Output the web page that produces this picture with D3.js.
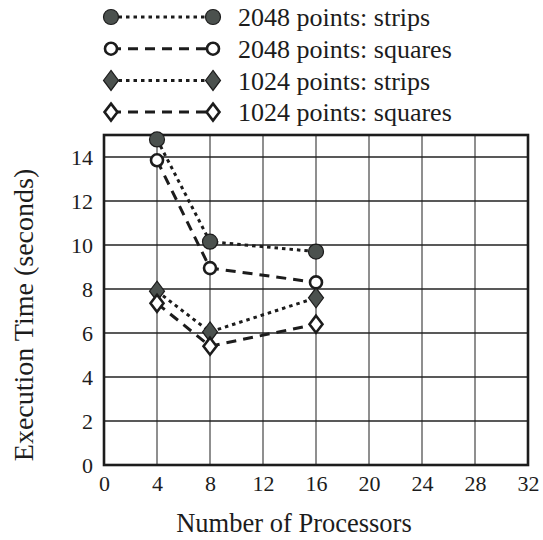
<!DOCTYPE html>
<html>
<head>
<meta charset="utf-8">
<script src="https://cdn.jsdelivr.net/npm/d3@7"></script>
<style>
  body { margin: 0; background: #fff; }
  svg { display: block; }
  svg text { font-family: "Liberation Serif", "Times New Roman", serif; }
</style>
</head>
<body>
<svg id="chart"></svg>
<script>
var W = 543, H = 540,
  M_LEFT = 104, M_RIGHT = 15, M_TOP = 135, M_BOTTOM = 75,
  SERIF = "Liberation Serif, Times New Roman, serif";

// data
var processors = [4, 8, 16];
var strips2048 = [14.8, 10.15, 9.7];
var squares2048 = [13.85, 8.95, 8.3];
var strips1024 = [7.9, 6.05, 7.6];
var squares1024 = [7.35, 5.4, 6.4];
var seriesNames = ["2048 points: strips", "2048 points: squares", "1024 points: strips", "1024 points: squares"];
var xTicks = [0, 4, 8, 12, 16, 20, 24, 28, 32];
var yTicks = [0, 2, 4, 6, 8, 10, 12, 14];

var INK = "#1c1c1c", FILL = "#4b514e";

var series = [
  { name: seriesNames[0], values: strips2048, shape: "circle", filled: true, dash: "3.5,4" },
  { name: seriesNames[1], values: squares2048, shape: "circle", filled: false, dash: "10,7" },
  { name: seriesNames[2], values: strips1024, shape: "diamond", filled: true, dash: "3.5,4" },
  { name: seriesNames[3], values: squares1024, shape: "diamond", filled: false, dash: "10,7" }
];

var svg = d3.select("#chart").attr("width", W).attr("height", H)
  .attr("font-family", SERIF);

var x = d3.scaleLinear().domain([0, 32]).range([M_LEFT, W - M_RIGHT]);
var y = d3.scaleLinear().domain([0, 15]).range([H - M_BOTTOM, M_TOP]);

// grid
svg.append("g").selectAll("line.vg")
  .data(xTicks.slice(1, -1)).enter().append("line")
  .attr("x1", function(d) { return x(d); }).attr("x2", function(d) { return x(d); })
  .attr("y1", y(0)).attr("y2", y(15))
  .attr("stroke", "#333").attr("stroke-width", 1.1);

svg.append("g").selectAll("line.hg")
  .data(yTicks.slice(1)).enter().append("line")
  .attr("x1", x(0)).attr("x2", x(32))
  .attr("y1", function(d) { return y(d); }).attr("y2", function(d) { return y(d); })
  .attr("stroke", "#222").attr("stroke-width", 1.4);

// frame
svg.append("rect")
  .attr("x", x(0)).attr("y", y(15))
  .attr("width", x(32) - x(0)).attr("height", y(0) - y(15))
  .attr("fill", "none").attr("stroke", INK).attr("stroke-width", 2.6);

// axes (labels only)
var xAxis = svg.append("g")
  .attr("transform", "translate(0," + (y(0) + 10) + ")")
  .call(d3.axisBottom(x).tickValues(xTicks).tickSize(0).tickPadding(0));
var yAxis = svg.append("g")
  .attr("transform", "translate(" + (x(0) - 11) + ",0)")
  .call(d3.axisLeft(y).tickValues(yTicks).tickSize(0).tickPadding(0));
[xAxis, yAxis].forEach(function(a) {
  a.attr("font-family", SERIF).attr("font-size", 22);
  a.select(".domain").remove();
  a.selectAll("text").attr("fill", INK);
});
yAxis.selectAll("text").attr("dy", "0.35em");

svg.append("text")
  .attr("x", (x(0) + x(32)) / 2 - 22).attr("y", 532)
  .attr("text-anchor", "middle").attr("fill", INK)
  .attr("font-size", 26.5)
  .text("Number of Processors");

svg.append("text")
  .attr("transform", "translate(33," + 315 + ") rotate(-90)")
  .attr("text-anchor", "middle").attr("fill", INK)
  .attr("font-size", 28)
  .text("Execution Time (seconds)");

function drawMarker(g, s) {
  if (s.shape === "circle") {
    g.append("circle")
      .attr("r", s.filled ? 7.5 : 6)
      .attr("fill", s.filled ? FILL : "#fff")
      .attr("stroke", INK).attr("stroke-width", s.filled ? 1.2 : 2.6);
  } else {
    var w = s.filled ? 7.5 : 6.5, h = s.filled ? 10 : 8.5;
    g.append("path")
      .attr("d", "M0," + (-h) + "L" + w + ",0L0," + h + "L" + (-w) + ",0Z")
      .attr("fill", s.filled ? FILL : "#fff")
      .attr("stroke", INK).attr("stroke-width", s.filled ? 1.2 : 2.6)
      .attr("stroke-linejoin", "miter");
  }
}

var line = d3.line()
  .x(function(d, i) { return x(processors[i]); })
  .y(function(d) { return y(d); });

// lines first, markers on top
series.forEach(function(s) {
  svg.append("path")
    .attr("d", line(s.values))
    .attr("fill", "none").attr("stroke", INK)
    .attr("stroke-width", 3).attr("stroke-dasharray", s.dash);
});
series.forEach(function(s) {
  svg.append("g").selectAll("g")
    .data(s.values).enter().append("g")
    .attr("transform", function(d, i) { return "translate(" + x(processors[i]) + "," + y(d) + ")"; })
    .each(function() { drawMarker(d3.select(this), s); });
});

// legend
var legend = svg.append("g").attr("font-family", SERIF);
var LX1 = 111, LX2 = 213, LTX = 238;
series.forEach(function(s, i) {
  var ly = 17 + i * 31.7;
  var row = legend.append("g").attr("transform", "translate(0," + ly + ")");
  row.append("line")
    .attr("x1", LX1).attr("x2", LX2).attr("y1", 0).attr("y2", 0)
    .attr("stroke", INK).attr("stroke-width", 3).attr("stroke-dasharray", s.dash);
  drawMarker(row.append("g").attr("transform", "translate(" + LX1 + ",0)"), s);
  drawMarker(row.append("g").attr("transform", "translate(" + LX2 + ",0)"), s);
  row.append("text")
    .attr("x", LTX).attr("y", 0).attr("dy", "0.35em")
    .attr("fill", INK).attr("font-size", 26)
    .text(s.name);
});
</script>
</body>
</html>
